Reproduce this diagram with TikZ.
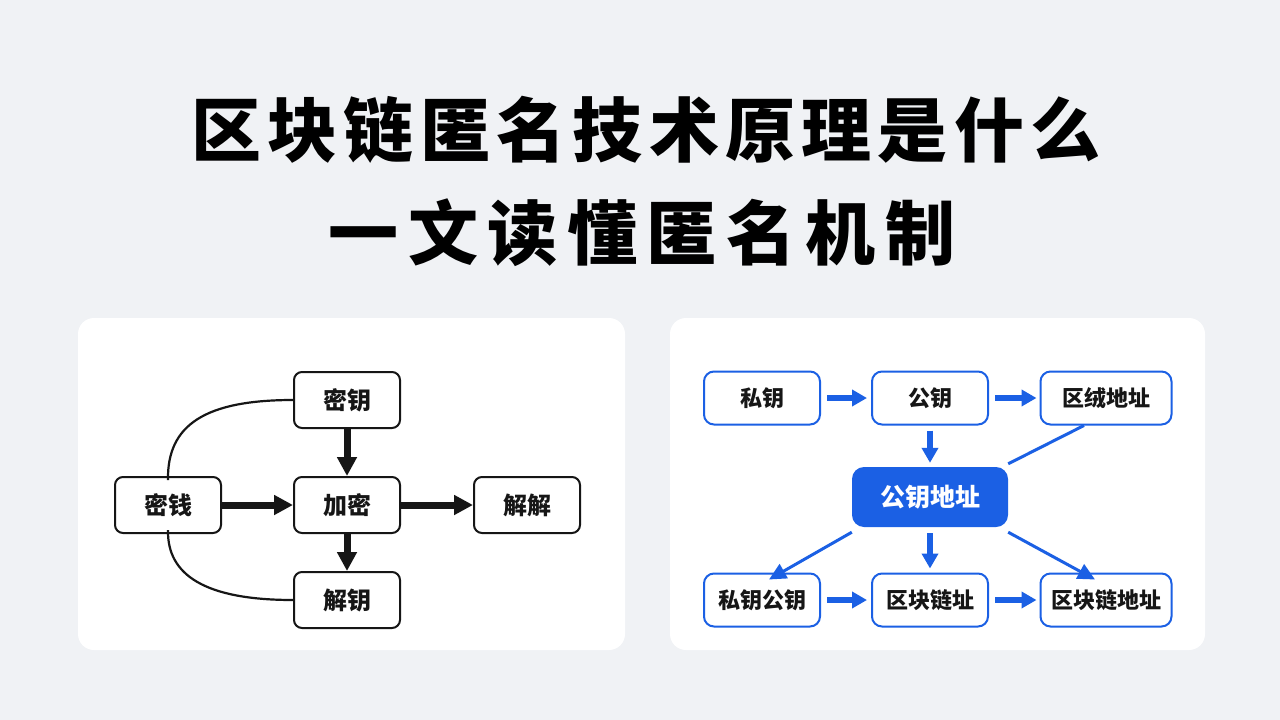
\documentclass[tikz,border=0pt]{standalone}
\usepackage{fontspec}
\newfontfamily\cjk{Noto Sans CJK SC}
\newfontfamily\cjktitle{Noto Sans CJK SC}[LetterSpace=9]
\newfontfamily\cjkwide{Noto Sans CJK SC}[LetterSpace=13.5]
\usepackage{tikz}
\usetikzlibrary{positioning,arrows.meta}
\definecolor{bgcol}{RGB}{240,242,245}
\definecolor{chainblue}{RGB}{27,96,228}
\definecolor{inkblack}{RGB}{22,22,22}

\begin{document}
\begin{tikzpicture}[x=1pt,y=-1pt,
  every node/.style={font=\cjk\bfseries\fontsize{24}{28}\selectfont,text=inkblack},
  kbox/.style={draw=inkblack,line width=2pt,fill=white,rounded corners=8pt,minimum width=106pt,minimum height=56pt},
  karrow/.style={draw=inkblack,line width=7pt,-{Triangle[length=19pt,width=19pt]}},
  kcurve/.style={draw=inkblack,line width=2.2pt},
  cbox/.style={draw=chainblue,line width=2pt,fill=white,rounded corners=10pt,minimum width=116pt,minimum height=53pt,font=\cjk\bfseries\fontsize{22}{26}\selectfont},
  hub/.style={fill=chainblue,rounded corners=12pt,minimum width=156pt,minimum height=60pt,text=white,font=\cjk\bfseries\fontsize{25}{30}\selectfont},
  carrow/.style={draw=chainblue,line width=5.5pt,-{Triangle[length=15pt,width=16pt]}},
  cslant/.style={draw=chainblue,line width=3pt,-{Triangle[length=17pt,width=16pt]}},
  titletext/.style={font=\cjktitle\bfseries\fontsize{70}{80}\selectfont,text=black}]
\fill[bgcol] (0,0) rectangle (1280,720);
\useasboundingbox (0,0) rectangle (1280,720);
\node[titletext] (title1) at (646,130) {区块链匿名技术原理是什么};
\node[titletext,font=\cjkwide\bfseries\fontsize{70}{80}\selectfont] (title2) at (642,233) {一文读懂匿名机制};
\fill[white,rounded corners=16pt] (78,318) rectangle (625,650);
\fill[white,rounded corners=16pt] (670,318) rectangle (1205,650);

\node[kbox] (key) at (347,400) {密钥};
\node[kbox] (money) at (168,505) {密钱};
\node[kbox] (enc) at (347,505) {加密};
\node[kbox] (dec) at (527,505) {解解};
\node[kbox] (deckey) at (347,600) {解钥};
\draw[karrow] (key) -- (enc);
\draw[karrow] (money) -- (enc);
\draw[karrow] (enc) -- (dec);
\draw[karrow] (enc) -- (deckey);
\draw[kcurve] ([yshift=-4pt]money.north) .. controls (167,425) and (205,400) .. (key.west);
\draw[kcurve] ([yshift=4pt]money.south) .. controls (167,575) and (205,600) .. (deckey.west);

\node[cbox] (priv) at (762,398) {私钥};
\node[cbox] (pub) at (930,398) {公钥};
\node[cbox,minimum width=131pt] (addr) at (1106,398) {区绒地址};
\node[hub] (pubaddr) at (930,497) {公钥地址};
\node[cbox] (pairkey) at (762,600) {私钥公钥};
\node[cbox] (chain) at (930,600) {区块链址};
\node[cbox,minimum width=131pt] (chainaddr) at (1106,600) {区块链地址};
\draw[carrow,shorten <=6pt,shorten >=4pt] (priv) -- (pub);
\draw[carrow,shorten <=6pt,shorten >=3pt] (pub) -- (addr);
\draw[carrow,shorten <=5pt,shorten >=4pt] (pub) -- (pubaddr);
\draw[chainblue,line width=3pt] ([xshift=-22pt]addr.south) -- ([yshift=3pt]pubaddr.north east);
\draw[cslant] ([yshift=-5pt]pubaddr.south west) -- ([xshift=7pt,yshift=-7pt]pairkey.north);
\draw[carrow,shorten <=6pt,shorten >=4pt] (pubaddr) -- (chain);
\draw[cslant] ([yshift=-5pt]pubaddr.south east) -- ([xshift=-11pt,yshift=-7pt]chainaddr.north);
\draw[carrow,shorten <=6pt,shorten >=4pt] (pairkey) -- (chain);
\draw[carrow,shorten <=6pt,shorten >=3pt] (chain) -- (chainaddr);
\end{tikzpicture}
\end{document}
